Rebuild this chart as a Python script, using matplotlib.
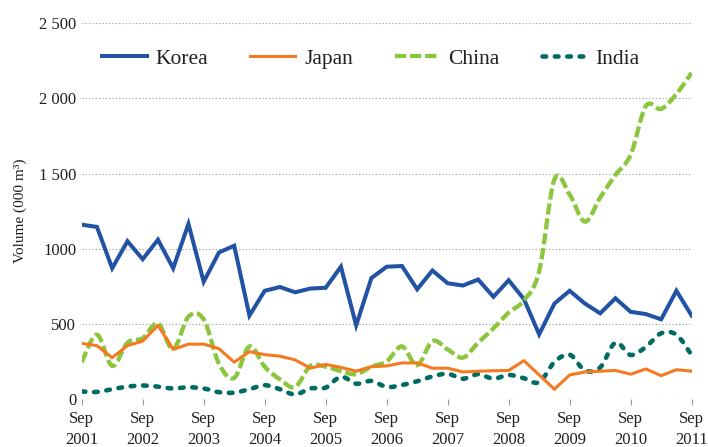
import matplotlib
matplotlib.use('Agg')
import matplotlib.pyplot as plt
import numpy as np
from matplotlib.path import Path
from matplotlib.patches import PathPatch
from matplotlib.lines import Line2D

# Quarterly volumes (000 m3), Sep 2001 .. Sep 2011
korea = [1160, 1145, 870, 1050, 930, 1060, 870, 1165, 780, 975, 1020, 555,
         720, 745, 710, 735, 740, 880, 490, 805, 880, 885, 730, 855, 770,
         755, 795, 680, 790, 665, 430, 635, 720, 635, 570, 670, 580, 565,
         530, 720, 555]
japan = [370, 355, 275, 355, 385, 490, 330, 365, 365, 335, 245, 315,
         295, 285, 260, 205, 230, 210, 185, 215, 220, 240, 240, 205, 205,
         180, 185, 188, 190, 255, 160, 65, 160, 180, 185, 190, 165, 200,
         155, 195, 185]
china = [245, 428, 220, 375, 405, 503, 333, 548, 530, 235, 140, 350,
         215, 130, 80, 220, 215, 185, 165, 215, 250, 350, 225, 385, 330,
         275, 375, 470, 575, 655, 850, 1460, 1360, 1180, 1340, 1490, 1625,
         1950, 1930, 2030, 2170]
india = [50, 47, 65, 82, 90, 82, 70, 78, 70, 45, 42, 65, 92, 65, 30, 70,
         76, 148, 102, 120, 80, 93, 118, 150, 168, 135, 165, 135, 160, 138,
         112, 245, 295, 190, 210, 375, 293, 347, 437, 428, 292]
tick_labels = ['Sep\n2001', 'Sep\n2002', 'Sep\n2003', 'Sep\n2004', 'Sep\n2005',
               'Sep\n2006', 'Sep\n2007', 'Sep\n2008', 'Sep\n2009', 'Sep\n2010',
               'Sep\n2011']
y_ticks = [0, 500, 1000, 1500, 2000, 2500]
y_tick_labels = ['0', '500', '1000', '1 500', '2 000', '2 500']

c_korea = '#2152A3'
c_japan = '#F47920'
c_china = '#8CC63F'
c_india = '#006B63'
txt = '#231F20'

plt.rcParams['font.family'] = ['Liberation Serif', 'DejaVu Serif']


def smooth_path(xs, ys):
    # Excel-like smoothed line: cubic bezier through every data point
    n = len(xs)
    verts = [(xs[0], ys[0])]
    codes = [Path.MOVETO]
    for i in range(n - 1):
        a = max(i - 1, 0)
        b = min(i + 2, n - 1)
        c1 = (xs[i] + (xs[i + 1] - xs[a]) / 6, ys[i] + (ys[i + 1] - ys[a]) / 6)
        c2 = (xs[i + 1] - (xs[b] - xs[i]) / 6, ys[i + 1] - (ys[b] - ys[i]) / 6)
        verts += [c1, c2, (xs[i + 1], ys[i + 1])]
        codes += [Path.CURVE4] * 3
    return Path(verts, codes)


fig = plt.figure(figsize=(7.08, 4.47), dpi=100)
ax = fig.add_axes([0.1154, 0.1074, 0.8615, 0.8405])

x = np.arange(len(korea))

china_ls = (0, (2.6, 0.9))
india_ls = (0, (0.8, 1.9))

l_korea, = ax.plot(x, korea, color=c_korea, lw=2.9, solid_joinstyle='miter', zorder=3)

p_china = PathPatch(smooth_path(x, china), fill=False, transform=ax.transData,
                    zorder=4, capstyle='butt', edgecolor=c_china, lw=3.1,
                    linestyle=china_ls)
ax.add_patch(p_china)

p_india = PathPatch(smooth_path(x, india), fill=False, transform=ax.transData,
                    zorder=4, capstyle='round', edgecolor=c_india, lw=3.3,
                    linestyle=india_ls)
ax.add_patch(p_india)

l_japan, = ax.plot(x, japan, color=c_japan, lw=2.2, zorder=5)

# legend proxies for the smoothed series
h_china = Line2D([], [], color=c_china, lw=3.1, linestyle=china_ls)
h_india = Line2D([], [], color=c_india, lw=3.3, linestyle=india_ls,
                 dash_capstyle='round')

ax.set_xlim(0, len(korea) - 1)
ax.set_ylim(0, 2500)
ax.set_xticks(x[::4])
ax.set_xticklabels(tick_labels, fontsize=12, color=txt, linespacing=1.35)
ax.set_yticks(y_ticks)
ax.set_yticklabels(y_tick_labels, fontsize=12, color=txt)
ax.tick_params(axis='y', length=0, pad=4)
ax.tick_params(axis='x', length=4, width=0.8, color='#999999', direction='out', pad=5)
ax.grid(axis='y', color='#999999', lw=0.8, linestyle=(0, (1, 2)))
for s in ax.spines.values():
    s.set_visible(False)

ax.set_ylabel('Volume (000 m³)', fontsize=11, color=txt)
ax.yaxis.set_label_coords(-0.09, 0.5)

leg = ax.legend([l_korea, l_japan, h_china, h_india], ['Korea', 'Japan', 'China', 'India'],
                loc='center left', bbox_to_anchor=(0.033, 0.905), ncol=4, frameon=False,
                fontsize=15.5, handlelength=2.1, handletextpad=0.4, columnspacing=1.95,
                borderpad=0, borderaxespad=0)
for t in leg.get_texts():
    t.set_color(txt)

fig.savefig('out.png', dpi=100)
